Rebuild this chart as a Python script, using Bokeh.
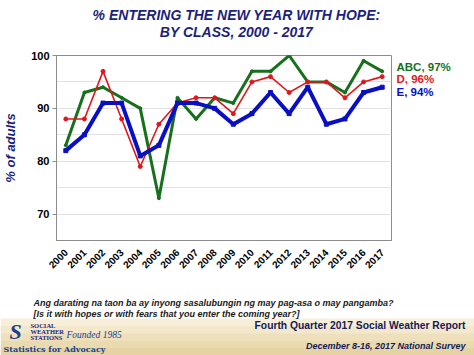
import math
from bokeh.plotting import figure
from bokeh.layouts import column, row
from bokeh.models import Label, FixedTicker, Range1d, BoxAnnotation
from bokeh.embed import file_html
from bokeh.resources import INLINE

years = list(range(2000, 2018))
abc = [83, 93, 94, 92, 90, 73, 92, 88, 92, 91, 97, 97, 100, 95, 95, 93, 99, 97]
d_cls = [88, 88, 97, 88, 79, 87, 91, 92, 92, 89, 95, 96, 93, 95, 95, 92, 95, 96]
e_cls = [82, 85, 91, 91, 81, 83, 91, 91, 90, 87, 89, 93, 89, 94, 87, 88, 93, 94]
series_labels = ["ABC, 97%", "D, 96%", "E, 94%"]
y_ticks = [70, 80, 90, 100]
grid_ticks = [70, 75, 80, 85, 90, 95, 100]

W, H = 474, 355
GREEN = "#17701c"
RED = "#e0161c"
BLUE = "#0b0fc4"
NAVY = "#1c1f7c"

TOP_H = 45
MAIN_H = 245
FOOT_H = H - TOP_H - MAIN_H
MAIN_W = 393
MB_TOP, MB_BOT = 10, 50
FRAME_BOTTOM = TOP_H + MAIN_H - MB_BOT   # page y of main frame bottom


def blank(w, h, bg="white"):
    f = figure(width=w, height=h, output_backend="svg", toolbar_location=None,
               x_axis_location=None, y_axis_location=None,
               x_range=Range1d(0, 1), y_range=Range1d(0, 1),
               min_border=0, min_border_left=0, min_border_right=0,
               min_border_top=0, min_border_bottom=0)
    f.outline_line_color = None
    f.xgrid.visible = False
    f.ygrid.visible = False
    f.background_fill_color = bg
    f.border_fill_color = bg
    return f


def lab(f, base, x0, text, x, y, size, color="black", style="bold", font="Liberation Sans",
        align="left", angle=0.0):
    # x, y: page pixel coords (y from top); base: page y of the frame bottom; x0: page x of frame left
    f.add_layout(Label(x=x - x0, y=base - y, x_units="screen", y_units="screen", text=text,
                       text_font=font, text_font_size=f"{size}px", text_font_style=style,
                       text_color=color, text_align=align, text_baseline="middle",
                       angle=angle))


# ---------- main chart ----------
p = figure(width=MAIN_W, height=MAIN_H, output_backend="svg", toolbar_location=None,
           x_range=Range1d(1999.5, 2017.5), y_range=Range1d(65, 100),
           min_border_left=47, min_border_right=2, min_border_top=MB_TOP, min_border_bottom=MB_BOT)
p.background_fill_color = "white"
p.border_fill_color = "white"
p.outline_line_color = "#8c8c8c"
p.outline_line_width = 1

p.xaxis.ticker = FixedTicker(ticks=years)
p.xaxis.major_label_orientation = math.pi / 4
p.xaxis.major_label_text_font = "Liberation Sans"
p.xaxis.major_label_text_font_style = "bold"
p.xaxis.major_label_text_font_size = "10px"
p.xaxis.major_label_text_color = "black"
p.xaxis.major_tick_line_color = None
p.xaxis.minor_tick_line_color = None
p.xaxis.axis_line_color = "#8c8c8c"
p.xaxis.major_label_standoff = 4

p.yaxis.ticker = FixedTicker(ticks=y_ticks)
p.yaxis.major_label_text_font = "Liberation Sans"
p.yaxis.major_label_text_font_style = "bold"
p.yaxis.major_label_text_font_size = "11px"
p.yaxis.major_label_text_color = "black"
p.yaxis.axis_line_color = "#8c8c8c"
p.yaxis.major_tick_line_color = "#8c8c8c"
p.yaxis.major_tick_out = 4
p.yaxis.major_tick_in = 0
p.yaxis.minor_tick_line_color = None
p.yaxis.major_label_standoff = 3
p.yaxis.axis_label = "% of adults"
p.yaxis.axis_label_text_font = "Liberation Sans"
p.yaxis.axis_label_text_font_style = "bold italic"
p.yaxis.axis_label_text_font_size = "13px"
p.yaxis.axis_label_text_color = NAVY
p.yaxis.axis_label_standoff = 10

p.xgrid.grid_line_color = None
p.ygrid.ticker = FixedTicker(ticks=grid_ticks)
p.ygrid.grid_line_color = "#e2e2e2"
p.ygrid.grid_line_width = 1

p.line(years, abc, line_color=GREEN, line_width=3)
p.scatter(years, abc, size=3, color=GREEN)
p.line(years, d_cls, line_color=RED, line_width=1.6)
p.scatter(years, d_cls, size=4, color=RED)
p.line(years, e_cls, line_color=BLUE, line_width=4)
p.scatter(years, e_cls, size=4, marker="square", color=BLUE)

# ---------- legend column (frame aligned with main frame in the row) ----------
leg = blank(W - MAIN_W, MAIN_H)
for t, c, yy in zip(series_labels, [GREEN, RED, BLUE], [66, 78, 91]):
    lab(leg, FRAME_BOTTOM, MAIN_W, t, 396, yy, 11.5, c, "bold")

# ---------- title ----------
top = blank(W, TOP_H)
lab(top, TOP_H, 0, "% ENTERING THE NEW YEAR WITH HOPE:", 236, 14, 14, NAVY, "bold italic", align="center")
lab(top, TOP_H, 0, "BY CLASS, 2000 - 2017", 236, 31, 14, NAVY, "bold italic", align="center")

# ---------- footer ----------
foot = blank(W, FOOT_H)
bands = ["#f7efd9", "#f3e8cb", "#efe0bd", "#eadaaf", "#e6d3a4"]
step = (H - 318) / len(bands)
for i, c in enumerate(bands):
    tp = H - 318 - i * step
    foot.add_layout(BoxAnnotation(left=0, right=W, top=tp, bottom=tp - step - 0.5,
                                  left_units="screen", right_units="screen",
                                  top_units="screen", bottom_units="screen",
                                  fill_color=c, fill_alpha=1, line_color=None, level="underlay"))

lab(foot, H, 0, "Ang darating na taon ba ay inyong sasalubungin ng may pag-asa o may pangamba?",
    33, 302, 9, "#1a1a1a", "bold italic")
lab(foot, H, 0, "[Is it with hopes or with fears that you enter the coming year?]",
    33, 313, 9, "#1a1a1a", "bold italic")
lab(foot, H, 0, "Fourth Quarter 2017 Social Weather Report", 465, 325, 10.3, "#141a5a", "bold", align="right")
lab(foot, H, 0, "December 8-16, 2017 National Survey", 465, 345, 9, "#141a5a", "bold italic", align="right")

lab(foot, H, 0, "S", 9, 331, 22, "#1c3f8c", "bold italic", font="Liberation Serif")
lab(foot, H, 0, "SOCIAL", 30, 325, 6.5, NAVY, "bold", font="Liberation Serif")
lab(foot, H, 0, "WEATHER", 30, 331, 6.5, NAVY, "bold", font="Liberation Serif")
lab(foot, H, 0, "STATIONS", 30, 337, 6.5, NAVY, "bold", font="Liberation Serif")
lab(foot, H, 0, "Founded 1985", 66, 334, 9.5, "#1c3f8c", "italic", font="Liberation Serif")
lab(foot, H, 0, "Statistics for Advocacy", 3, 348, 8, "#1c3f8c", "bold", font="DejaVu Serif")

layout = column(top, row(p, leg), foot)
open("out.html", "w").write(file_html(layout, INLINE))
